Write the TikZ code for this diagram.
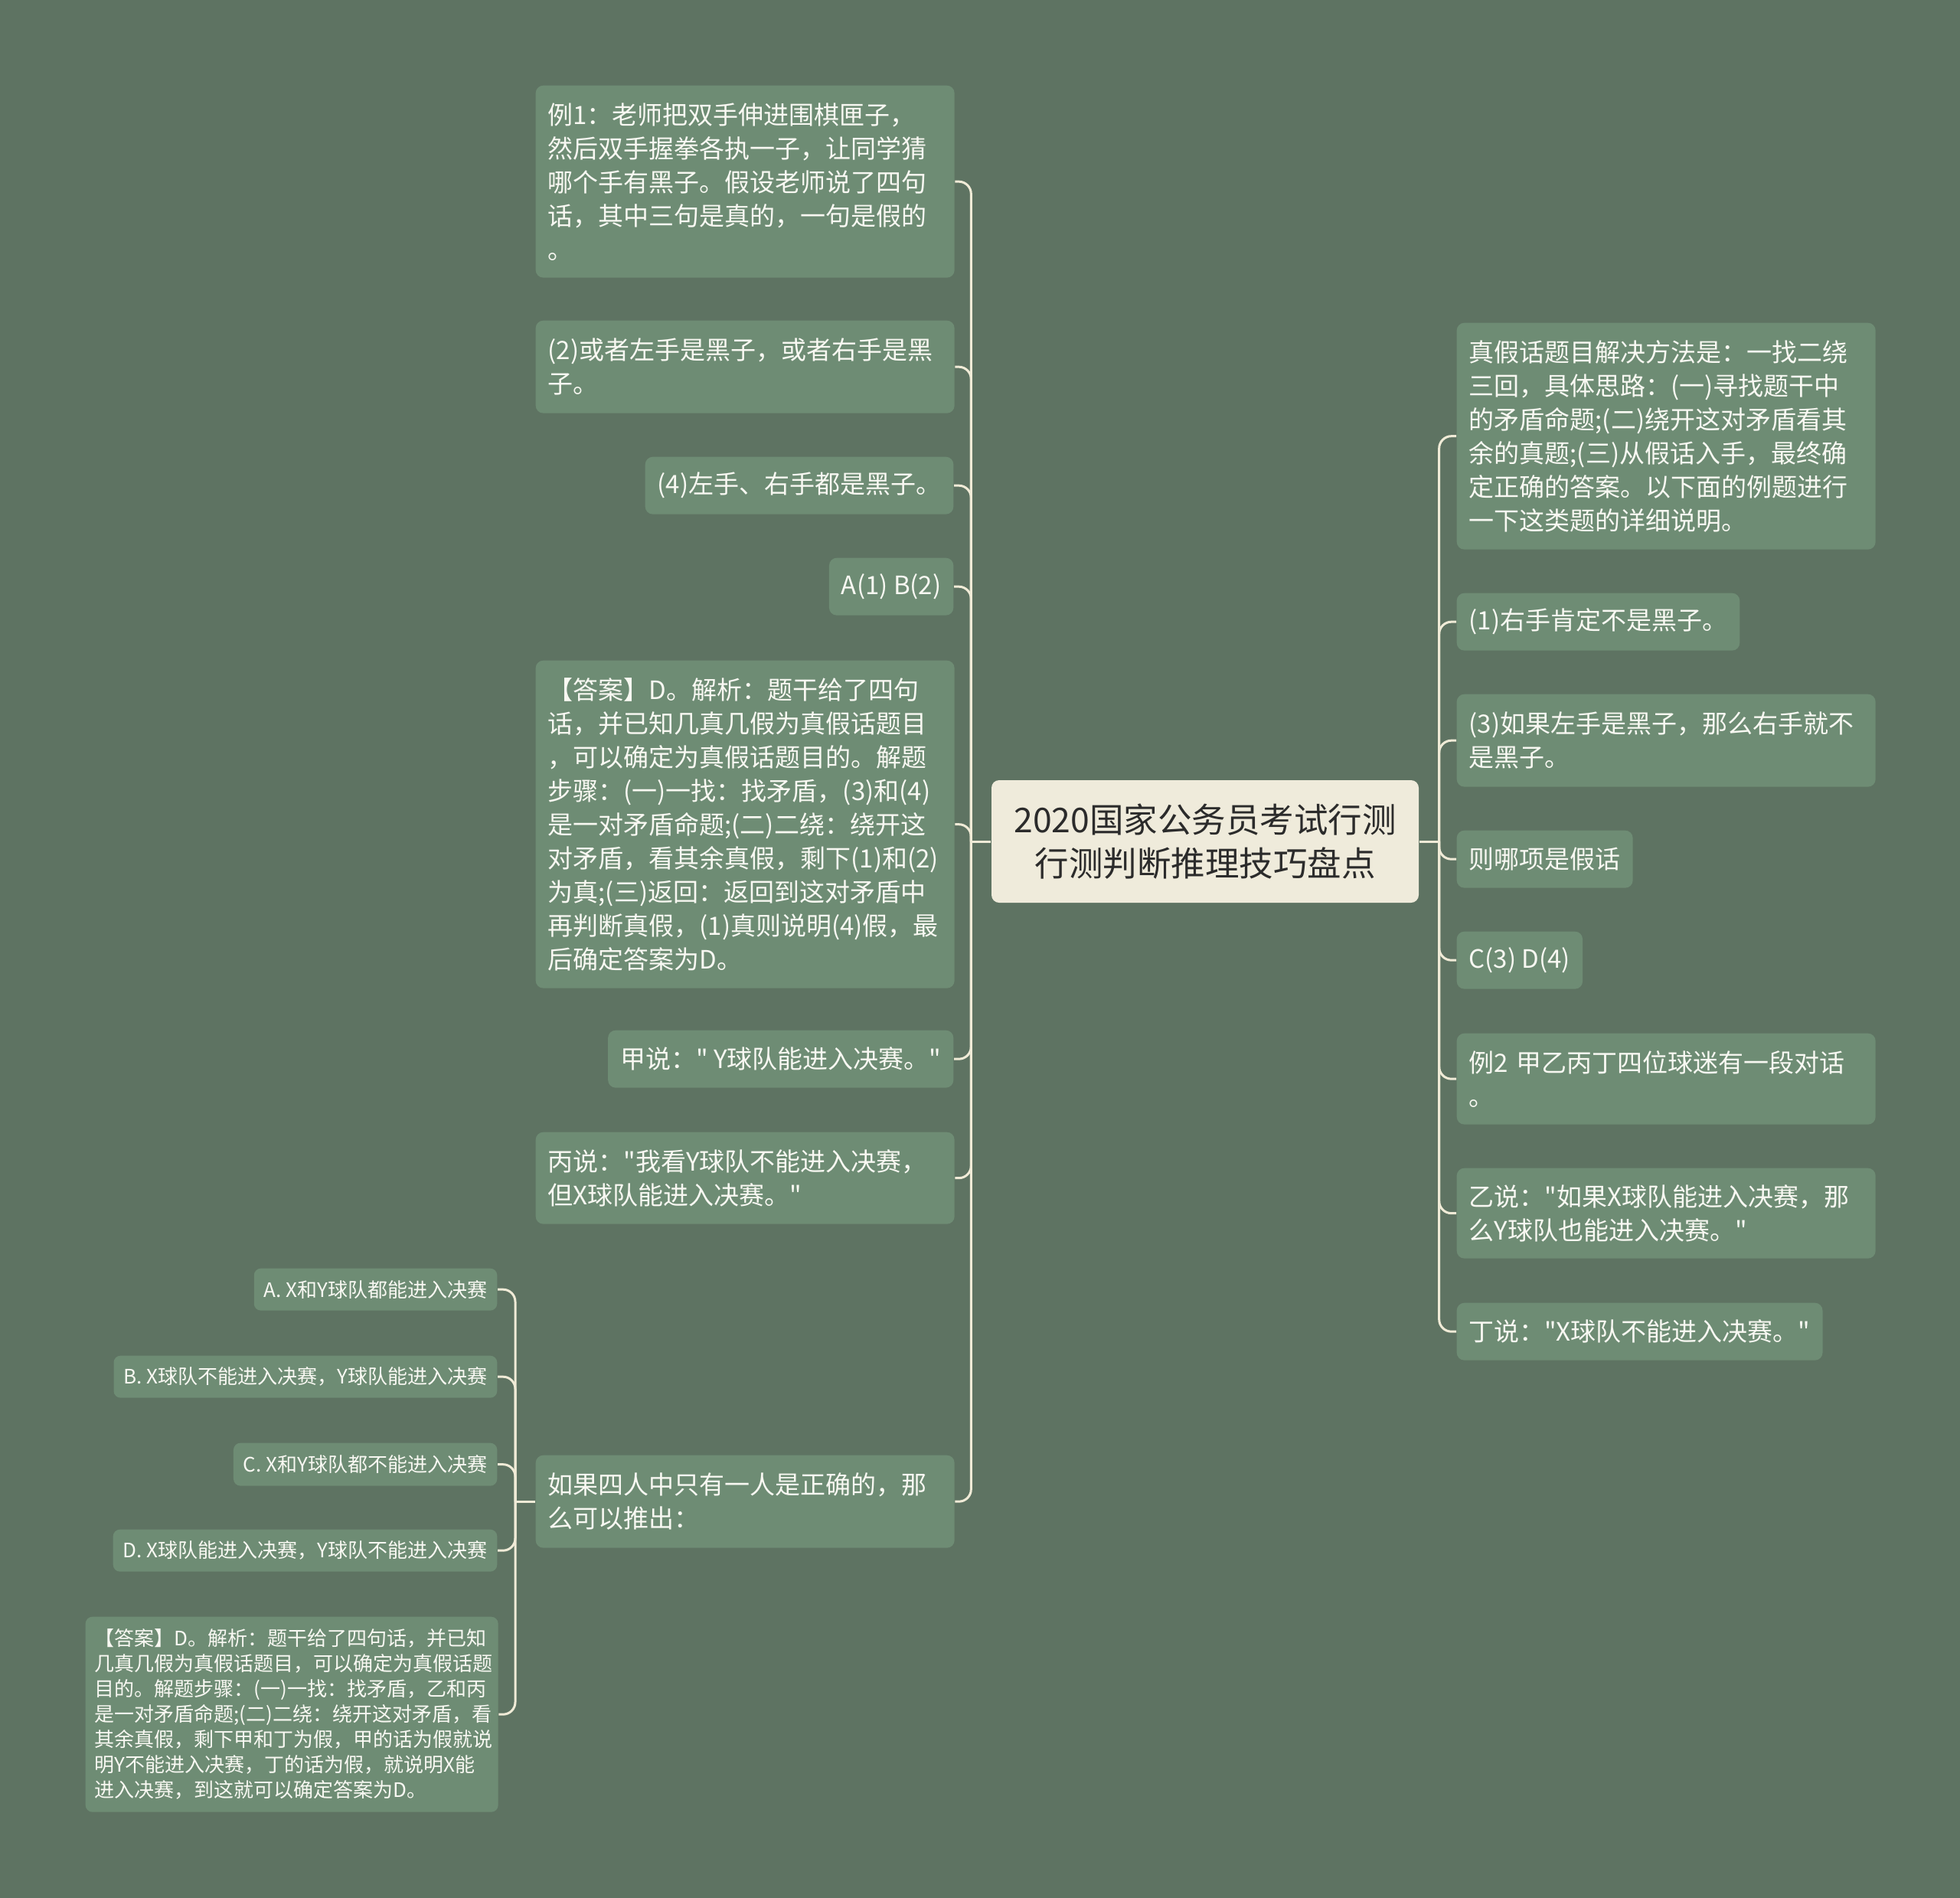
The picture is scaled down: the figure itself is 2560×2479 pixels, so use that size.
\documentclass[tikz,border=0pt]{standalone}
\usepackage{fontspec}
\setmainfont{Noto Sans CJK SC}
\newfontfamily\cjkfont{Noto Sans CJK SC}
\usetikzlibrary{calc}
\newlength{\pxu}\setlength{\pxu}{0.3pt}
\definecolor{bgc}{RGB}{94,115,98}
\definecolor{nodefill}{RGB}{110,140,116}
\definecolor{linec}{RGB}{240,235,215}
\definecolor{centerfill}{RGB}{239,235,219}
\definecolor{centertext}{RGB}{43,43,43}
\definecolor{boxtext}{RGB}{248,248,242}
\begin{document}
\begin{tikzpicture}[x=0.3pt,y=-0.3pt,
  box/.style={fill=nodefill, text=boxtext, rounded corners=10\pxu, inner xsep=16\pxu, inner ysep=0pt, align=left, font=\cjkfont\fontsize{9.9pt}{13.2pt}\selectfont},
  multi/.style={box, anchor=north west, text width=515\pxu},
  smallbox/.style={fill=nodefill, text=boxtext, rounded corners=9\pxu, inner xsep=13\pxu, inner ysep=0pt, align=left, font=\cjkfont\fontsize{7.8pt}{9.9pt}\selectfont},
  centerbox/.style={fill=centerfill, text=centertext, rounded corners=10\pxu, align=center, minimum width=558\pxu, minimum height=160\pxu, inner sep=0pt, font=\cjkfont\fontsize{13.35pt}{17.1pt}\selectfont},
  conn/.style={draw=linec, line width=0.9pt, rounded corners=16\pxu}
]
\fill[bgc] (0,0) rectangle (2560,2479);
\useasboundingbox (0,0) rectangle (2560,2479);

% center
\node[centerbox] (c) at (1574,1099) {2020国家公务员考试行测\\行测判断推理技巧盘点};

% left column
\node[multi, minimum height=251\pxu] (L1) at (699,111) {例1：老师把双手伸进围棋匣子，\\然后双手握拳各执一子，让同学猜\\哪个手有黑子。假设老师说了四句\\话，其中三句是真的，一句是假的\\。};
\node[multi, minimum height=121\pxu] (L2) at (699,418) {(2)或者左手是黑子，或者右手是黑\\子。};
\node[box, anchor=north east, minimum height=75\pxu] (L3) at (1246,596) {(4)左手、右手都是黑子。};
\node[box, anchor=north east, minimum height=75\pxu] (L4) at (1246,728) {A(1) B(2)};
\node[multi, minimum height=428\pxu] (L5) at (699,862) {【答案】D。解析：题干给了四句\\话，并已知几真几假为真假话题目\\，可以确定为真假话题目的。解题\\步骤：(一)一找：找矛盾，(3)和(4)\\是一对矛盾命题;(二)二绕：绕开这\\对矛盾，看其余真假，剩下(1)和(2)\\为真;(三)返回：返回到这对矛盾中\\再判断真假，(1)真则说明(4)假，最\\后确定答案为D。};
\node[box, anchor=north east, minimum height=75\pxu] (L6) at (1246,1345) {甲说：" Y球队能进入决赛。"};
\node[multi, minimum height=120\pxu] (L7) at (699,1478) {丙说："我看Y球队不能进入决赛，\\但X球队能进入决赛。"};
\node[multi, minimum height=121\pxu] (L8) at (699,1900) {如果四人中只有一人是正确的，那\\么可以推出：};

% right column
\node[multi, minimum height=296\pxu] (R1) at (1902,421) {真假话题目解决方法是：一找二绕\\三回，具体思路：(一)寻找题干中\\的矛盾命题;(二)绕开这对矛盾看其\\余的真题;(三)从假话入手，最终确\\定正确的答案。以下面的例题进行\\一下这类题的详细说明。};
\node[box, anchor=north west, minimum height=75\pxu] (R2) at (1902,774) {(1)右手肯定不是黑子。};
\node[multi, minimum height=121\pxu] (R3) at (1902,906) {(3)如果左手是黑子，那么右手就不\\是黑子。};
\node[box, anchor=north west, minimum height=75\pxu] (R4) at (1902,1084) {则哪项是假话};
\node[box, anchor=north west, minimum height=75\pxu] (R5) at (1902,1216) {C(3) D(4)};
\node[multi, minimum height=119\pxu] (R6) at (1902,1349) {例2 甲乙丙丁四位球迷有一段对话\\。};
\node[multi, minimum height=118\pxu] (R7) at (1902,1525) {乙说："如果X球队能进入决赛，那\\么Y球队也能进入决赛。"};
\node[box, anchor=north west, minimum height=75\pxu] (R8) at (1902,1701) {丁说："X球队不能进入决赛。"};

% sub children
\node[smallbox, anchor=north east, minimum height=55\pxu] (S1) at (650,1656) {A. X和Y球队都能进入决赛};
\node[smallbox, anchor=north east, minimum height=55\pxu] (S2) at (650,1770) {B. X球队不能进入决赛，Y球队能进入决赛};
\node[smallbox, anchor=north east, minimum height=56\pxu] (S3) at (650,1884) {C. X和Y球队都不能进入决赛};
\node[smallbox, anchor=north east, minimum height=55\pxu] (S4) at (650,1997) {D. X球队能进入决赛，Y球队不能进入决赛};
\node[smallbox, anchor=north west, inner xsep=12\pxu, text width=515\pxu, minimum height=255\pxu] (S5) at (111,2111) {【答案】D。解析：题干给了四句话，并已知\\几真几假为真假话题目，可以确定为真假话题\\目的。解题步骤：(一)一找：找矛盾，乙和丙\\是一对矛盾命题;(二)二绕：绕开这对矛盾，看\\其余真假，剩下甲和丁为假，甲的话为假就说\\明Y不能进入决赛，丁的话为假，就说明X能\\进入决赛，到这就可以确定答案为D。};

% junctions
\coordinate (JL) at ($(c.west)+(-26,0)$);
\coordinate (JR) at ($(c.east)+(26,0)$);
\coordinate (JS) at ($(L8.west)+(-26,0)$);

\draw[conn] (c.west) -- (JL);
\draw[conn] (c.east) -- (JR);
\draw[conn] (L8.west) -- (JS);
\foreach \n in {L1,L2,L3,L4,L5,L6,L7,L8} \draw[conn] (JL) |- (\n.east);
\foreach \n in {R1,R2,R3,R4,R5,R6,R7,R8} \draw[conn] (JR) |- (\n.west);
\foreach \n in {S1,S2,S3,S4,S5} \draw[conn] (JS) |- (\n.east);
\end{tikzpicture}
\end{document}
